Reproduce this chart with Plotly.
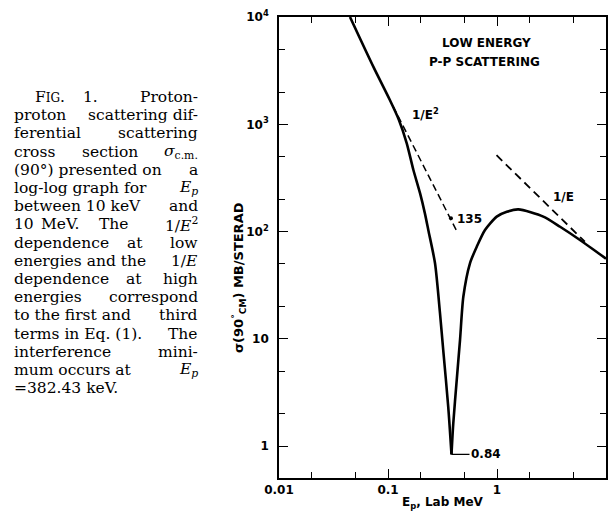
import math
import plotly.graph_objects as go

W, H = 614, 518
# plot frame in pixels
PL, PR, PT, PB = 279, 606, 17, 478

# ---- data ----
energy_mev = [0.0448, 0.0733, 0.104, 0.126, 0.1486, 0.171, 0.197, 0.218, 0.2345,
              0.270, 0.300, 0.321, 0.357, 0.3824, 0.397, 0.427, 0.458, 0.491,
              0.565, 0.652, 0.776, 0.994, 1.23, 1.57, 2.66, 3.79, 5.77, 10.0]
sigma_mb = [10000, 3443, 1683, 1097, 665, 375, 227, 148, 103,
            50.7, 17.3, 7.9, 2.33, 0.84, 1.63, 4.14, 9.8, 24.7,
            50.7, 72.3, 103.5, 138, 153, 161, 138, 111, 83.6, 56]

inv_e2_energy = [0.111, 0.43]
inv_e2_sigma = [1480, 100]
inv_e_energy = [0.99, 6.4]
inv_e_sigma = [515, 80.5]

mark_energy = [0.378]
mark_sigma = [133]
min_energy = 0.3824
min_sigma = 0.84

x_tickvals = [0.01, 0.1, 1, 10]
x_ticktext = ["0.01", "0.1", "1", "10"]
x_minor = [0.02, 0.05, 0.2, 0.5, 2, 5]
y_tickvals = [1, 10, 100, 1000, 10000]
y_ticktext = ["1", "10", "10<sup>2</sup>", "10<sup>3</sup>", "10<sup>4</sup>"]
y_minor = [2, 5, 20, 50, 200, 500, 2000, 5000]

caption_lines = [
    [("F<span style='font-size:12px'>IG</span>.", 33, "left"), ("1.", 90, "center"), ("Proton-", 200, "right")],
    [("proton", 12, "left"), ("scattering dif-", 200, "right")],
    [("ferential", 12, "left"), ("scattering", 200, "right")],
    [("cross", 12, "left"), ("section", 110, "center"), ("<i>σ</i><sub>c.m.</sub>", 200, "right")],
    [("(90°) presented on", 12, "left"), ("a", 200, "right")],
    [("log-log graph for", 12, "left"), ("<i>E<sub>p</sub></i>", 200, "right")],
    [("between 10 keV", 12, "left"), ("and", 200, "right")],
    [("10", 12, "left"), ("MeV.", 60, "center"), ("The", 114, "center"), ("1/<i>E</i><sup>2</sup>", 200, "right")],
    [("dependence", 12, "left"), ("at", 135, "center"), ("low", 200, "right")],
    [("energies and the", 12, "left"), ("1/<i>E</i>", 200, "right")],
    [("dependence", 12, "left"), ("at", 134, "center"), ("high", 200, "right")],
    [("energies", 12, "left"), ("correspond", 200, "right")],
    [("to the first and", 12, "left"), ("third", 200, "right")],
    [("terms in Eq. (1).", 12, "left"), ("The", 200, "right")],
    [("interference", 12, "left"), ("mini-", 200, "right")],
    [("mum occurs at", 12, "left"), ("<i>E<sub>p</sub></i>", 200, "right")],
    [("=382.43 keV.", 12, "left")],
]
caption_top = 97
caption_step = 18.2


def px(x):
    return x / W


def py(y):
    return 1 - y / H


LETTER = dict(family="DejaVu Sans", size=12, color="black", weight="bold")

# split the curve at its interference minimum so each branch is smoothed
# on its own and the tip stays sharp
i_min = sigma_mb.index(min(sigma_mb))
branches = [(energy_mev[:i_min + 1], sigma_mb[:i_min + 1]),
            (energy_mev[i_min:], sigma_mb[i_min:])]

fig = go.Figure()
for bx, by in branches:
    fig.add_trace(go.Scatter(x=bx, y=by, mode="lines",
                             line=dict(color="black", width=2.6, shape="spline",
                                       smoothing=0.7),
                             showlegend=False, hoverinfo="skip"))
fig.add_trace(go.Scatter(x=inv_e2_energy, y=inv_e2_sigma, mode="lines",
                         line=dict(color="black", width=1.5, dash="7px,4px"),
                         showlegend=False, hoverinfo="skip"))
fig.add_trace(go.Scatter(x=inv_e_energy, y=inv_e_sigma, mode="lines",
                         line=dict(color="black", width=1.8, dash="8px,5px"),
                         showlegend=False, hoverinfo="skip"))
fig.add_trace(go.Scatter(x=mark_energy, y=mark_sigma, mode="markers",
                         marker=dict(color="black", size=4), showlegend=False,
                         hoverinfo="skip"))

axis_common = dict(type="log", showline=True, linecolor="black", linewidth=1.6,
                   mirror="allticks", ticks="inside", ticklen=9, tickwidth=1.4,
                   tickcolor="black", showgrid=False, zeroline=False,
                   tickfont=LETTER, automargin=False)

fig.update_layout(
    width=W, height=H, margin=dict(l=0, r=0, t=0, b=0, pad=0, autoexpand=False),
    paper_bgcolor="white", plot_bgcolor="white",
    xaxis=dict(axis_common, range=[-2, 1], domain=[px(PL), px(PR)],
               tickvals=x_tickvals, ticktext=x_ticktext,
               minor=dict(tickvals=x_minor, ticks="inside", ticklen=6,
                          tickwidth=1.2, tickcolor="black", showgrid=False),
               anchor="y"),
    yaxis=dict(axis_common, range=[-0.296, 4], domain=[py(PB), py(PT)],
               tickvals=y_tickvals, ticktext=y_ticktext, ticklabelstandoff=6,
               minor=dict(tickvals=y_minor, ticks="inside", ticklen=6,
                          tickwidth=1.2, tickcolor="black", showgrid=False),
               anchor="x"),
)


def label(x, y, text, xanchor="center", font=LETTER, **kw):
    return dict(x=px(x), y=py(y), xref="paper", yref="paper", text=text,
                showarrow=False, xanchor=xanchor, yanchor="middle", font=font, **kw)


ann = []
# axis titles
ann.append(label(443, 503, "E<sub>p</sub>, Lab MeV"))
ann.append(label(239, 278, "σ(90<sup>°</sup><sub>CM</sub>) MB/STERAD", textangle=-90,
                 font=dict(LETTER, size=13)))
# in-plot labels
ann.append(label(486, 43, "LOW ENERGY"))
ann.append(label(484, 62, "P-P SCATTERING"))
ann.append(label(410, 114, "1/E<sup>2</sup>", xanchor="left"))
ann.append(label(455, 219, "135", xanchor="left"))
ann.append(label(551, 197, "1/E", xanchor="left"))
ann.append(dict(x=math.log10(min_energy), y=math.log10(min_sigma), xref="x", yref="y",
                text="0.84", showarrow=True, arrowhead=0, arrowwidth=1.3,
                arrowcolor="black", ax=18, ay=0, xanchor="left", yanchor="middle",
                font=LETTER))

CAP = dict(family="DejaVu Serif", size=15.5, color="black")
for i, line in enumerate(caption_lines):
    y = caption_top + caption_step * i
    for text, x, anchor in line:
        ann.append(label(x, y, text, xanchor=anchor, font=CAP))

fig.update_layout(annotations=ann)
fig.write_html("out.html", config={"displayModeBar": False},
               post_script="document.body.style.margin='0';document.body.style.padding='0';")
